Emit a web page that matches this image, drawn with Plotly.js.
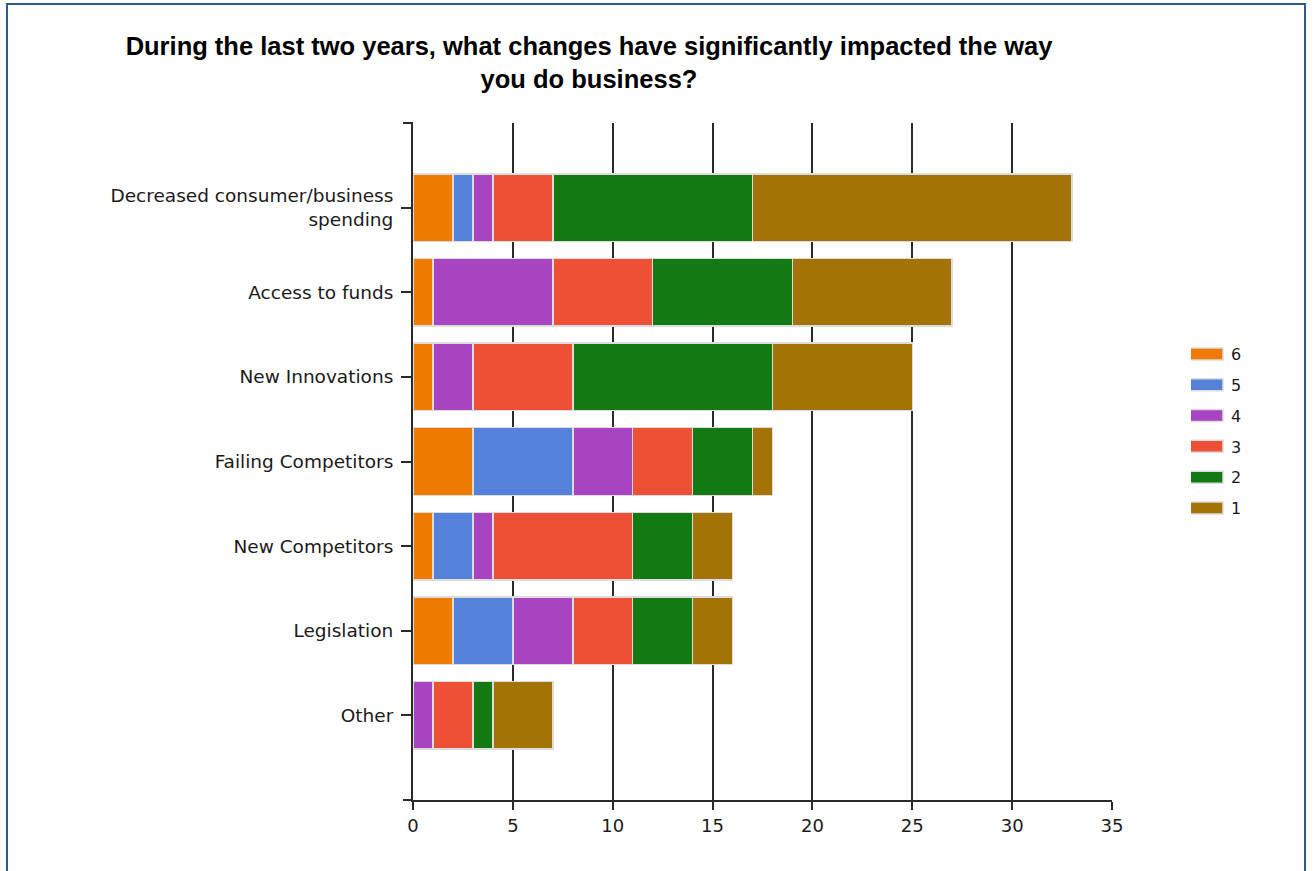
<!DOCTYPE html>
<html>
<head>
<meta charset="utf-8">
<script src="https://cdn.plot.ly/plotly-3.0.1.min.js"></script>
<style>
  html, body { margin: 0; padding: 0; background: #ffffff; }
  #wrap { position: relative; width: 1313px; height: 871px; overflow: hidden; }
  #chart { position: absolute; left: 0; top: 0; width: 1313px; height: 871px; }
  #frame { position: absolute; left: 6px; top: 3px; width: 1296px; height: 900px;
           border: 2px solid #2E5A8E; pointer-events: none; }
</style>
</head>
<body>
<div id="wrap">
  <div id="chart"></div>
  <div id="frame"></div>
</div>
<script>
// Categories, top to bottom
const categories = [
  "Decreased consumer/business<br>spending",
  "Access to funds",
  "New Innovations",
  "Failing Competitors",
  "New Competitors",
  "Legislation",
  "Other"
];

// Series (stack order left to right: 6,5,4,3,2,1)
const seriesNames = ["6", "5", "4", "3", "2", "1"];
const r6 = [2, 1, 1, 3, 1, 2, 0];
const r5 = [1, 0, 0, 5, 2, 3, 0];
const r4 = [1, 6, 2, 3, 1, 3, 1];
const r3 = [3, 5, 5, 3, 7, 3, 2];
const r2 = [10, 7, 10, 3, 3, 3, 1];
const r1 = [16, 8, 7, 1, 2, 2, 3];
const seriesValues = [r6, r5, r4, r3, r2, r1];
const seriesColors = ["#EE7A00", "#5482DA", "#A844C2", "#EE5035", "#137A13", "#A47306"];

const xTicks = [0, 5, 10, 15, 20, 25, 30, 35];

const FONT = "DejaVu Sans, Verdana, sans-serif";

const traces = seriesNames.map((name, i) => ({
  type: "bar",
  orientation: "h",
  name: name,
  legendgroup: name,
  y: categories,
  x: seriesValues[i],
  marker: { color: seriesColors[i], line: { color: "#dcdcdc", width: 1.5 } },
  hoverinfo: "x+name"
}));

const layout = {
  width: 1313,
  height: 871,
  paper_bgcolor: "#ffffff",
  plot_bgcolor: "#ffffff",
  margin: { l: 413, r: 201, t: 123, b: 71, pad: 0 },
  barmode: "stack",
  bargap: 0.2,
  font: { family: FONT, size: 18, color: "#1a1a1a" },
  title: {
    text: "<b>During the last two years, what changes have significantly impacted the way<br>you do business?</b>",
    font: { family: "Liberation Sans, Arial, sans-serif", size: 25.5, color: "#000000" },
    x: 0.2518, xref: "paper", xanchor: "center",
    y: 0.937, yref: "container", yanchor: "middle"
  },
  xaxis: {
    range: [0, 35],
    tickvals: xTicks,
    ticktext: xTicks.map(String),
    showgrid: true,
    gridcolor: "#2a2a2a",
    gridwidth: 2,
    zeroline: false,
    showline: true,
    linecolor: "#2a2a2a",
    linewidth: 2,
    ticks: "outside",
    ticklen: 8,
    tickwidth: 2,
    tickcolor: "#2a2a2a",
    tickfont: { family: FONT, size: 18, color: "#1a1a1a" },
    fixedrange: true
  },
  yaxis: {
    type: "category",
    categoryorder: "array",
    categoryarray: categories,
    range: [7, -1],
    showgrid: false,
    zeroline: false,
    showline: true,
    linecolor: "#2a2a2a",
    linewidth: 2,
    ticks: "outside",
    ticklen: 10,
    tickwidth: 2,
    tickcolor: "#2a2a2a",
    tickfont: { family: FONT, size: 18.5, color: "#1a1a1a" },
    ticklabelstandoff: 4,
    fixedrange: true
  },
  legend: {
    x: 1.113, xanchor: "left",
    y: 0.545, yanchor: "middle",
    traceorder: "grouped",
    tracegroupgap: 7,
    font: { family: FONT, size: 16, color: "#1a1a1a" },
    bgcolor: "rgba(0,0,0,0)"
  },
  shapes: [
    { type: "line", xref: "paper", yref: "paper", xsizemode: "pixel", xanchor: 0,
      x0: -10, x1: 0, y0: 1, y1: 1, line: { color: "#2a2a2a", width: 2 } },
    { type: "line", xref: "paper", yref: "paper", xsizemode: "pixel", xanchor: 0,
      x0: -10, x1: 0, y0: 0, y1: 0, line: { color: "#2a2a2a", width: 2 } }
  ],
  showlegend: true
};

Plotly.newPlot("chart", traces, layout, { displayModeBar: false, staticPlot: true }).then(gd => {
  // widen legend swatches to the long rectangles of the original chart
  gd.querySelectorAll(".legend .legendpoints path").forEach(p => {
    p.setAttribute("d", "M12,6H-22V-6H12Z");
  });
});
</script>
</body>
</html>
